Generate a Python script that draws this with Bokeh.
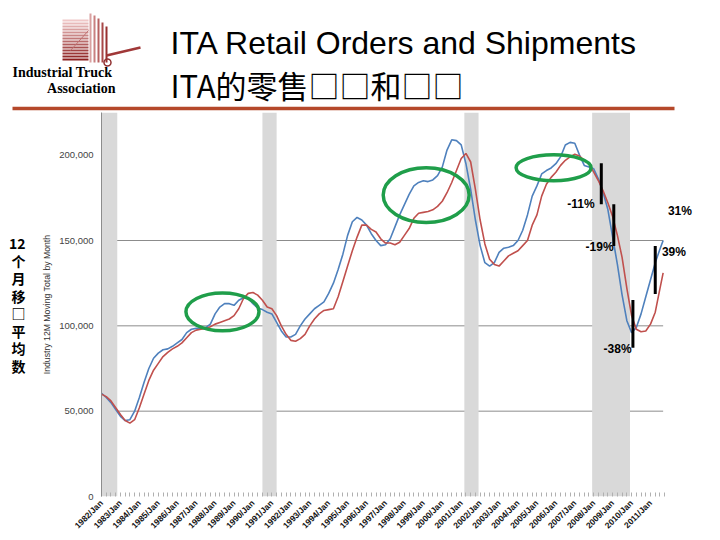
import math
import numpy as np
from bokeh.plotting import figure
from bokeh.models import (Range1d, FixedTicker, ColumnDataSource, NumeralTickFormatter, LinearAxis)
from bokeh.layouts import column
from bokeh.embed import file_html
from bokeh.resources import INLINE
from bokeh.core.properties import value

# ------------------------------------------------------------------ data
# 12-month moving totals (thousand units), quarterly readings Jan/Apr/Jul/Oct
# from 1982/Jan to 2011/Jul, plus the final month (2011/Sep)
orders_k = [
    60.5, 58, 55, 51,        # 1982
    47, 44.5, 45, 50,        # 1983
    58, 67, 75, 81,          # 1984
    84, 86, 86.5, 88,        # 1985
    90, 92, 96, 98,          # 1986
    98.5, 98.5, 99, 101,     # 1987
    107, 111, 113, 113,      # 1988
    112, 115, 116.5, 116,    # 1989
    113, 110.5, 109.5, 108,  # 1990
    107, 102, 97, 93.5,      # 1991
    93.5, 95, 100, 104,      # 1992
    107, 110, 112, 114,      # 1993
    119, 125, 133, 142,      # 1994
    153, 161, 163.5, 162,    # 1995
    159, 154, 150, 147,      # 1996
    147.5, 151, 158, 165,    # 1997
    171, 177, 182, 184,      # 1998
    185, 184.5, 185.5, 188,  # 1999
    193, 203, 209, 208.5,    # 2000
    206, 195, 180, 162,      # 2001
    147, 137, 135, 137,      # 2002
    143, 145.5, 146, 147,    # 2003
    150, 156, 165, 176,      # 2004
    182, 189, 191, 192.5,    # 2005
    195, 199, 206, 207.5,    # 2006
    207, 200, 194, 193,      # 2007
    192, 186, 178, 168,      # 2008
    152, 136, 118, 103,      # 2009
    96, 99, 107, 117,        # 2010
    127, 137, 145,           # 2011
    150,                     # 2011/Sep
]
shipments_k = [
    60, 58.5, 56, 52,        # 1982
    48, 44.5, 43, 45,        # 1983
    52, 60, 68, 74,          # 1984
    78, 82, 84.5, 86.5,      # 1985
    88, 90, 93, 96,          # 1986
    97.5, 98, 98.5, 99.5,    # 1987
    101, 102, 103, 104,      # 1988
    106, 110, 116, 119,      # 1989
    119.5, 118, 115, 111,    # 1990
    110, 106, 100, 95,       # 1991
    91.5, 91, 92.5, 95,      # 1992
    100, 104, 107, 109,      # 1993
    109.5, 110, 117, 126,    # 1994
    135, 144, 152, 159,      # 1995
    159, 156.5, 155, 151,    # 1996
    148.5, 148.5, 147.5, 149,  # 1997
    153, 157, 163, 166,      # 1998
    166.5, 167, 168, 170,    # 1999
    173, 178, 184, 191,      # 2000
    198, 201, 196, 180,      # 2001
    162, 148, 139, 136,      # 2002
    135, 138, 141, 142.5,    # 2003
    144, 147, 150, 159,      # 2004
    165, 176, 183, 187,      # 2005
    190, 194, 197, 199,      # 2006
    200.5, 199.5, 197, 195,  # 2007
    190, 185, 179, 172,      # 2008
    164, 153, 140, 122,      # 2009
    106, 98, 96.5, 97,       # 2010
    101, 108, 122,           # 2011
    131,                     # 2011/Sep
]
dates = [1982 + 0.25 * i for i in range(len(orders_k) - 1)] + [2011 + 8 / 12]
orders = [v * 1000 for v in orders_k]
shipments = [v * 1000 for v in shipments_k]

# recessions (shaded)
rec_start = [1982.0, 1990.5, 2001 + 2 / 12, 2007 + 11 / 12]
rec_end = [1982 + 10 / 12, 1991.25, 2001 + 11 / 12, 2009 + 11 / 12]

years = list(range(1982, 2012))
year_labels = {y: f"{y}/Jan" for y in years}
y_ticks = [0, 50000, 100000, 150000, 200000]
grid_vals = [50000, 100000, 150000]

# annotations
bar_x = [2008.40, 2009.06, 2010.07, 2011.25]
bar_top = [195300, 171300, 115200, 146800]
bar_bottom = [171300, 146800, 87100, 118700]
pct_text = ["-11%", "-19%", "-38%", "31%", "39%"]
pct_x = [2008.05, 2009.05, 2010.0, 2011.92, 2011.6]
pct_y = [171300, 146200, 86500, 167200, 143300]
pct_align = ["right", "right", "right", "left", "left"]
ell_x = [1988.39, 1999.15, 2005.88]
ell_y = [108200, 176600, 192600]
ell_w = [3.86, 4.54, 3.96]
ell_h = [22200, 32200, 15200]

title1 = "ITA Retail Orders and Shipments"
title2 = "ITA的零售□□和□□"
side_label = "12\n个\n月\n移\n□\n平\n均\n数"
y_title = "Industry 12M Moving Total by Month"

BLUE = "#4f81bd"
RED = "#c0504d"
GREEN = "#1f9e4a"

W = 716
HEAD_H = 112
MAIN_H = 424

# ------------------------------------------------------------------ header (page pixels, y from top)
h = figure(width=W, height=HEAD_H, x_range=Range1d(0, W), y_range=Range1d(HEAD_H, 0),
           output_backend="svg", toolbar_location=None, min_border=0,
           x_axis_type=None, y_axis_type=None, frame_align=False)
h.outline_line_color = None

h.text(x=[170], y=[42], text=[title1], text_font=value("Liberation Sans"),
       text_font_size="32px", text_baseline="middle", text_align="left", text_color="black")
h.text(x=[170], y=[84], text=[title2], text_font=value("Noto Sans CJK SC"),
       text_font_size="31px", text_baseline="middle", text_align="left", text_color="black")

# logo (decorative)
sy = np.arange(20, 60, 3)
cols = []
for i in range(len(sy)):
    t = i / (len(sy) - 1)
    r = int(240 - 100 * t); g = int(200 - 170 * t); b = int(200 - 170 * t)
    cols.append(f"#{r:02x}{g:02x}{b:02x}")
h.segment(x0=[62] * len(sy), x1=[88] * len(sy), y0=list(sy), y1=list(sy),
          line_color=cols, line_width=2)
mx = [90, 94, 98, 102, 106]
mtop = [13, 15, 18, 22, 26]
h.segment(x0=mx, x1=mx, y0=mtop, y1=[62] * len(mx),
          line_color=["#d9a0a0", "#c98080", "#b86060", "#a84848", "#983030"], line_width=2)
h.segment(x0=[106], y0=[55], x1=[140], y1=[47], line_color="#a03838", line_width=2.5)
h.segment(x0=[70], y0=[50], x1=[88], y1=[30], line_color="#c07070", line_width=1)
h.scatter(x=[107], y=[62], size=7, marker="circle", fill_color=None,
          line_color="#903030", line_width=1.5)
h.text(x=[12], y=[72], text=["Industrial Truck"], text_font=value("Liberation Serif"),
       text_font_style="bold", text_font_size="14px", text_baseline="middle", text_align="left")
h.text(x=[115], y=[88], text=["Association"], text_font=value("Liberation Serif"),
       text_font_style="bold", text_font_size="14px", text_baseline="middle", text_align="right")
h.segment(x0=[12], y0=[108], x1=[674], y1=[108], line_color="#b5482a", line_width=3.5)

# ------------------------------------------------------------------ main chart
p = figure(width=W, height=MAIN_H, x_range=Range1d(1982.0, 2013.64), y_range=Range1d(0, 225000),
           output_backend="svg", toolbar_location=None, frame_align=False,
           min_border_left=101, min_border_right=16, min_border_top=0, min_border_bottom=39)
p.outline_line_color = None
p.xgrid.visible = False
p.ygrid.visible = False

p.segment(x0=[dates[0]] * len(grid_vals), x1=[dates[-1]] * len(grid_vals),
          y0=grid_vals, y1=grid_vals, line_color="#8c8c8c", line_width=1)
p.quad(left=rec_start, right=rec_end, bottom=0, top=p.y_range.end,
       fill_color="#d9d9d9", line_color=None)

src = ColumnDataSource(dict(x=dates, orders=orders, shipments=shipments))
p.line("x", "orders", source=src, line_color=BLUE, line_width=1.6)
p.line("x", "shipments", source=src, line_color=RED, line_width=1.6)

p.ellipse(x=ell_x, y=ell_y, width=ell_w, height=ell_h, fill_color=None,
          line_color=GREEN, line_width=3.5)
p.segment(x0=bar_x, x1=bar_x, y0=bar_bottom, y1=bar_top, line_color="black", line_width=3)
psrc = ColumnDataSource(dict(x=pct_x, y=pct_y, t=pct_text, a=pct_align))
p.text(x="x", y="y", text="t", text_align="a", source=psrc, text_font=value("Liberation Sans"),
       text_font_style="bold", text_font_size="12px", text_baseline="middle", text_color="black")

xa = p.xaxis[0]
xa.ticker = FixedTicker(ticks=years, minor_ticks=[1982 + 0.25 * i for i in range(120)])
xa.major_label_overrides = year_labels
xa.major_label_orientation = math.pi / 4
xa.major_label_text_font = "Liberation Sans"
xa.major_label_text_font_style = "bold"
xa.major_label_text_font_size = "8.5px"
xa.major_label_text_color = "#111111"
xa.major_label_standoff = 5
xa.axis_line_color = None
xa.major_tick_line_color = None
xa.major_tick_out = 0
xa.major_tick_in = 0
xa.minor_tick_in = 4
xa.minor_tick_out = 0
xa.minor_tick_line_color = "#b0b0b0"

ya = p.yaxis[0]
ya.ticker = FixedTicker(ticks=y_ticks)
ya.formatter = NumeralTickFormatter(format="0,0")
ya.major_tick_line_color = None
ya.major_tick_out = 0
ya.major_tick_in = 0
ya.minor_tick_line_color = None
ya.minor_tick_out = 0
ya.axis_line_color = "#8c8c8c"
ya.major_label_text_font = "Liberation Sans"
ya.major_label_text_font_size = "9.5px"
ya.major_label_text_color = "#444444"
ya.major_label_standoff = 8
ya.axis_label = y_title
ya.axis_label_text_font = "Liberation Sans"
ya.axis_label_text_font_style = "normal"
ya.axis_label_text_font_size = "8.7px"
ya.axis_label_text_color = "#333333"
ya.axis_label_standoff = 4

# Chinese side title, stacked character by character
side_ax = LinearAxis(ticker=FixedTicker(ticks=[]), axis_label=side_label,
                     axis_label_orientation="horizontal",
                     axis_label_text_font="Noto Sans CJK SC", axis_label_text_font_style="bold",
                     axis_label_text_font_size="14px", axis_label_text_color="black",
                     axis_label_text_line_height=0.875, axis_label_standoff=14,
                     axis_line_color=None, major_tick_line_color=None,
                     major_tick_out=0, major_tick_in=0, minor_tick_out=0, minor_tick_in=0,
                     minor_tick_line_color=None)
p.add_layout(side_ax, "left")

layout = column(h, p, spacing=0)
open("out.html", "w").write(file_html(layout, INLINE))
